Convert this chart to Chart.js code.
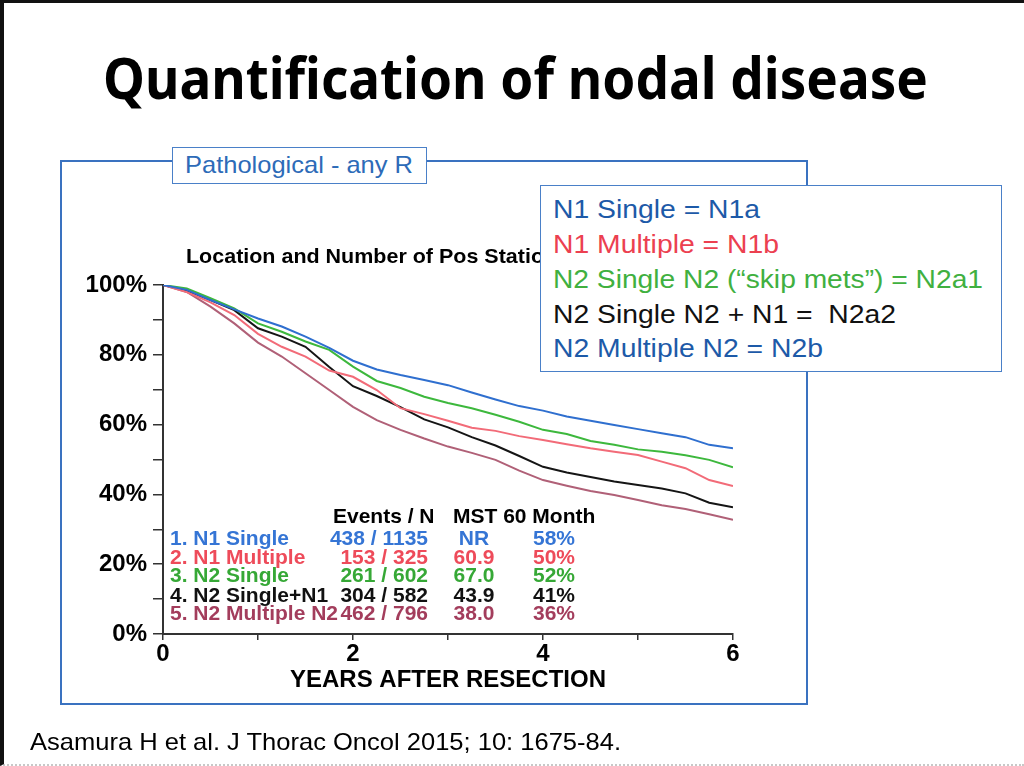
<!DOCTYPE html>
<html>
<head>
<meta charset="utf-8">
<script src="https://cdn.jsdelivr.net/npm/chart.js@4/dist/chart.umd.min.js"></script>
<style>
  html, body { margin:0; padding:0; background:#fff; }
  #slide { position:relative; width:1024px; height:766px; overflow:hidden; background:#fff; }
  .abs { position:absolute; white-space:pre; line-height:1; }
  .lib { font-family:"Liberation Sans", Arial, sans-serif; }
  #edge { position:absolute; left:0; top:0; width:1024px; height:766px; box-sizing:border-box;
          border-left:4px solid #111; border-top:3px solid #111; border-bottom:2px dotted #c8c8c8; }
  #frame { position:absolute; left:60px; top:160px; width:748px; height:545px; box-sizing:border-box;
           border:2px solid #3a72c0; }
  #chartWrap { position:absolute; left:0; top:0; width:1024px; height:766px; }
  #pathBox { position:absolute; left:172px; top:147px; width:255px; height:37px; box-sizing:border-box;
             border:1.5px solid #4a80c8; background:#fff; }
  #legBox { position:absolute; left:540px; top:185px; width:462px; height:187px; box-sizing:border-box;
            border:1.5px solid #4a80c8; background:#fff; }
  .fit { transform-origin:0 0; display:inline-block; }
</style>
</head>
<body>
<div id="slide">
  <div id="edge"></div>
  <div id="frame"></div>
  <div id="chartWrap"><canvas id="c" width="1024" height="766"></canvas></div>

  <div class="abs fit" data-w="825" style="left:103px; top:49px; font-family:'Noto Sans', sans-serif; font-weight:700; font-size:57px; color:#000;">Quantification of nodal disease</div>

  <div class="abs lib" id="locTitle" style="left:186px; top:245px; font-size:21px; font-weight:bold; color:#000;"><span class="fit" data-prefix="247"><span id="locPrefix">Location and Number of</span> Pos Stations</span></div>

  <div id="pathBox"></div>
  <div class="abs lib fit" data-w="228" style="left:185px; top:153px; font-size:24px; color:#2d6bb8;">Pathological - any R</div>

  <div id="legBox"></div>
  <div id="legendLines"></div>
  <div id="table"></div>

  <div class="abs lib fit" data-w="591" style="left:30px; top:730px; font-size:24px; color:#000;">Asamura H et al. J Thorac Oncol 2015; 10: 1675-84.</div>
</div>

<script>
// ---------- data ----------
const years = [0, 0.25, 0.5, 0.75, 1, 1.25, 1.5, 1.75, 2, 2.25, 2.5, 2.75, 3, 3.25, 3.5, 3.75, 4, 4.25, 4.5, 4.75, 5, 5.25, 5.5, 5.75, 6];
const n1Single    = [100, 98.6, 95.7, 93.0, 90.4, 88.1, 85.2, 82.0, 78.3, 75.8, 74.2, 72.8, 71.3, 69.2, 67.2, 65.3, 64.0, 62.3, 61.1, 59.9, 58.7, 57.5, 56.4, 54.2, 53.2];
const n1Multiple  = [100, 98.0, 95.0, 91.4, 86.0, 82.3, 79.5, 75.5, 73.7, 69.9, 64.7, 63.0, 61.1, 59.1, 58.2, 56.7, 55.6, 54.4, 53.2, 52.2, 51.3, 49.4, 47.5, 44.1, 42.4];
const n2Single    = [100, 99.0, 96.2, 93.3, 89.0, 86.6, 83.8, 81.4, 76.6, 72.5, 70.5, 68.0, 66.2, 64.7, 62.8, 60.8, 58.5, 57.3, 55.3, 54.2, 52.9, 52.2, 51.2, 49.9, 47.8];
const n2SingleN1  = [100, 98.4, 95.7, 92.8, 87.6, 85.2, 82.3, 76.5, 71.0, 68.2, 65.0, 61.5, 59.2, 56.4, 54.0, 51.0, 47.9, 46.3, 45.0, 43.7, 42.7, 41.7, 40.3, 37.6, 36.3];
const n2Multiple  = [100, 98.0, 93.8, 89.0, 83.5, 79.5, 74.7, 69.9, 65.1, 61.3, 58.5, 56.0, 53.7, 51.9, 49.9, 46.8, 44.1, 42.5, 41.0, 39.8, 38.4, 36.9, 35.8, 34.3, 32.7];

const seriesNames = ["N1 Single", "N1 Multiple", "N2 Single", "N2 Single+N1", "N2 Multiple N2"];
const rowLabels   = ["1. N1 Single", "2. N1 Multiple", "3. N2 Single", "4. N2 Single+N1", "5. N2 Multiple N2"];
const eventsN     = ["438 / 1135", "153 / 325", "261 / 602", "304 / 582", "462 / 796"];
const mstValues   = ["NR", "60.9", "67.0", "43.9", "38.0"];
const month60     = ["58%", "50%", "52%", "41%", "36%"];
const legendTexts = ["N1 Single = N1a", "N1 Multiple = N1b", "N2 Single N2 (\u201Cskip mets\u201D) = N2a1", "N2 Single N2 + N1 =  N2a2", "N2 Multiple N2 = N2b"];
const yTickLabels = [0, 20, 40, 60, 80, 100];
const xTickLabels = [0, 2, 4, 6];

// ---------- styles ----------
const lineColors  = ["#2f6fcf", "#f26b78", "#3db83d", "#151515", "#b06077"];
const tableColors = ["#3575d5", "#ee4b5a", "#36a836", "#111111", "#a33d5c"];
const legendColors= ["#1d5aa8", "#ec4050", "#40b040", "#111111", "#1d5aa8"];
const allSeries = [n1Single, n1Multiple, n2Single, n2SingleN1, n2Multiple];

const FONT = '"Liberation Sans", Arial, sans-serif';

// ---------- chart ----------
const datasets = allSeries.map((s, i) => ({
  label: seriesNames[i],
  data: years.map((t, k) => ({ x: t, y: s[k] })),
  borderColor: lineColors[i],
  borderWidth: 2,
  pointRadius: 0,
  tension: 0,
  fill: false
}));

new Chart(document.getElementById('c'), {
  type: 'line',
  data: { datasets },
  options: {
    responsive: false,
    devicePixelRatio: 1,
    animation: false,
    layout: { padding: { left: 0, right: 291, top: 285, bottom: 71 } },
    plugins: { legend: { display: false }, tooltip: { enabled: false } },
    scales: {
      x: {
        type: 'linear', min: 0, max: 6,
        afterFit: (a) => { a.height = 61; },
        ticks: {
          stepSize: 1, autoSkip: false, maxRotation: 0, padding: 0,
          color: '#000', font: { family: FONT, size: 24, weight: 'bold' },
          callback: (v) => xTickLabels.includes(v) ? String(v) : ''
        },
        grid: { drawOnChartArea: false, drawTicks: true, tickLength: 6, color: '#333', lineWidth: 1.5 },
        border: { color: '#333', width: 2 },
        title: { display: true, text: 'YEARS AFTER RESECTION', color: '#000',
                 font: { family: FONT, size: 24, weight: 'bold' }, padding: { top: 0, bottom: 0 } }
      },
      y: {
        min: 0, max: 100,
        afterFit: (a) => { a.width = 163; },
        ticks: {
          stepSize: 10, autoSkip: false, padding: 6,
          color: '#000', font: { family: FONT, size: 24, weight: 'bold' },
          callback: (v) => yTickLabels.includes(v) ? v + '%' : ''
        },
        grid: { drawOnChartArea: false, drawTicks: true, tickLength: 10, color: '#333', lineWidth: 1.5 },
        border: { color: '#333', width: 2 }
      }
    }
  }
});

// ---------- legend box text ----------
const legendBaselines = [218, 253, 288, 323, 357];
const legendWidths = [207, 226, 430, 343, 270];
const legWrap = document.getElementById('legendLines');
legendTexts.forEach((t, i) => {
  const d = document.createElement('div');
  d.className = 'abs lib fit';
  d.dataset.w = legendWidths[i];
  d.style.cssText = `left:553px; top:${legendBaselines[i] - 22}px; font-size:26px; color:${legendColors[i]};`;
  d.textContent = t;
  legWrap.appendChild(d);
});

// ---------- table text ----------
const tbl = document.getElementById('table');
function addText(txt, left, base, color, align, width) {
  const d = document.createElement('div');
  d.className = 'abs lib';
  const fs = 21;
  let css = `top:${base - 0.8465 * fs}px; font-size:${fs}px; font-weight:bold; color:${color};`;
  if (align === 'right') css += `left:${left - width}px; width:${width}px; text-align:right;`;
  else if (align === 'center') css += `left:${left - width / 2}px; width:${width}px; text-align:center;`;
  else css += `left:${left}px;`;
  d.style.cssText = css;
  d.textContent = txt;
  tbl.appendChild(d);
}
addText('Events / N', 333, 523, '#000', 'left');
addText('MST 60 Month', 453, 523, '#000', 'left');
const rowBase = [545, 563.5, 582, 602, 620];
rowLabels.forEach((lab, i) => {
  addText(lab, 170, rowBase[i], tableColors[i], 'left');
  addText(eventsN[i], 428, rowBase[i], tableColors[i], 'right', 120);
  addText(mstValues[i], 474, rowBase[i], tableColors[i], 'center', 80);
  addText(month60[i], 575, rowBase[i], tableColors[i], 'right', 80);
});

// ---------- fit widths ----------
document.querySelectorAll('.fit').forEach(el => {
  if (el.dataset.w) {
    const w = el.getBoundingClientRect().width;
    el.style.transform = `scaleX(${(+el.dataset.w / w).toFixed(4)})`;
  } else if (el.dataset.prefix) {
    const w = document.getElementById('locPrefix').getBoundingClientRect().width;
    el.style.transform = `scaleX(${(+el.dataset.prefix / w).toFixed(4)})`;
  }
});
</script>
</body>
</html>
